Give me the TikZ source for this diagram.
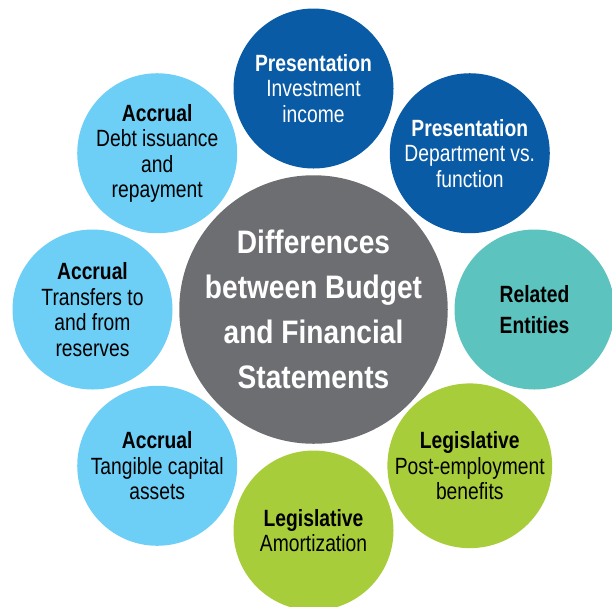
\documentclass[tikz,border=0pt]{standalone}
\usepackage{fontspec}
\usetikzlibrary{calc}
\setmainfont{Liberation Sans}[FakeStretch=0.82]
\newfontfamily\titlefont{Liberation Sans}[FakeStretch=0.865]
\definecolor{hubgray}{HTML}{6D6E72}
\definecolor{darkblue}{HTML}{0A5BA5}
\definecolor{lightblue}{HTML}{6DCFF6}
\definecolor{tealc}{HTML}{5CC3BE}
\definecolor{greenc}{HTML}{A8CD3A}
\tikzset{
  x=1pt, y=1pt,
  bubble/.style={circle, minimum size=160pt, inner sep=0pt, align=center,
    font=\fontsize{23.5}{25.5}\selectfont},
  presbubble/.style={bubble, fill=darkblue, text=white},
  accbubble/.style={bubble, fill=lightblue, text=black},
  legbubble/.style={bubble, fill=greenc, text=black},
  relbubble/.style={bubble, fill=tealc, text=black, font=\fontsize{23.5}{30.5}\selectfont},
  hubstyle/.style={circle, minimum size=262pt, inner sep=0pt, align=center, fill=hubgray, text=white,
    font=\titlefont\bfseries\fontsize{32.5}{45}\selectfont}
}
\begin{document}
\begin{tikzpicture}
\useasboundingbox (0,0) rectangle (612,-606);
\clip (0,0) rectangle (612,-606);
\node[hubstyle] (hub) at (313.5,-309.5) {Differences\\between Budget\\and Financial\\Statements};
\node[presbubble] (pinv) at ($(hub)+(90:221)$) {\textbf{Presentation}\\Investment\\income};
\node[presbubble] (pdept) at ($(hub)+(45:221)$) {\textbf{Presentation}\\Department vs.\\function};
\node[relbubble] (rel) at ($(hub)+(0:221)$) {\textbf{Related}\\\textbf{Entities}};
\node[legbubble] (lpost) at ($(hub)+(-45:221)$) {\textbf{Legislative}\\Post-employment\\benefits};
\node[legbubble] (lamort) at ($(hub)+(-90:221)$) {\textbf{Legislative}\\Amortization};
\node[accbubble] (atang) at ($(hub)+(-135:221)$) {\textbf{Accrual}\\Tangible capital\\assets};
\node[accbubble] (atrans) at ($(hub)+(180:221)$) {\textbf{Accrual}\\Transfers to\\and from\\reserves};
\node[accbubble] (adebt) at ($(hub)+(135:221)$) {\textbf{Accrual}\\Debt issuance\\and\\repayment};
\end{tikzpicture}
\end{document}
